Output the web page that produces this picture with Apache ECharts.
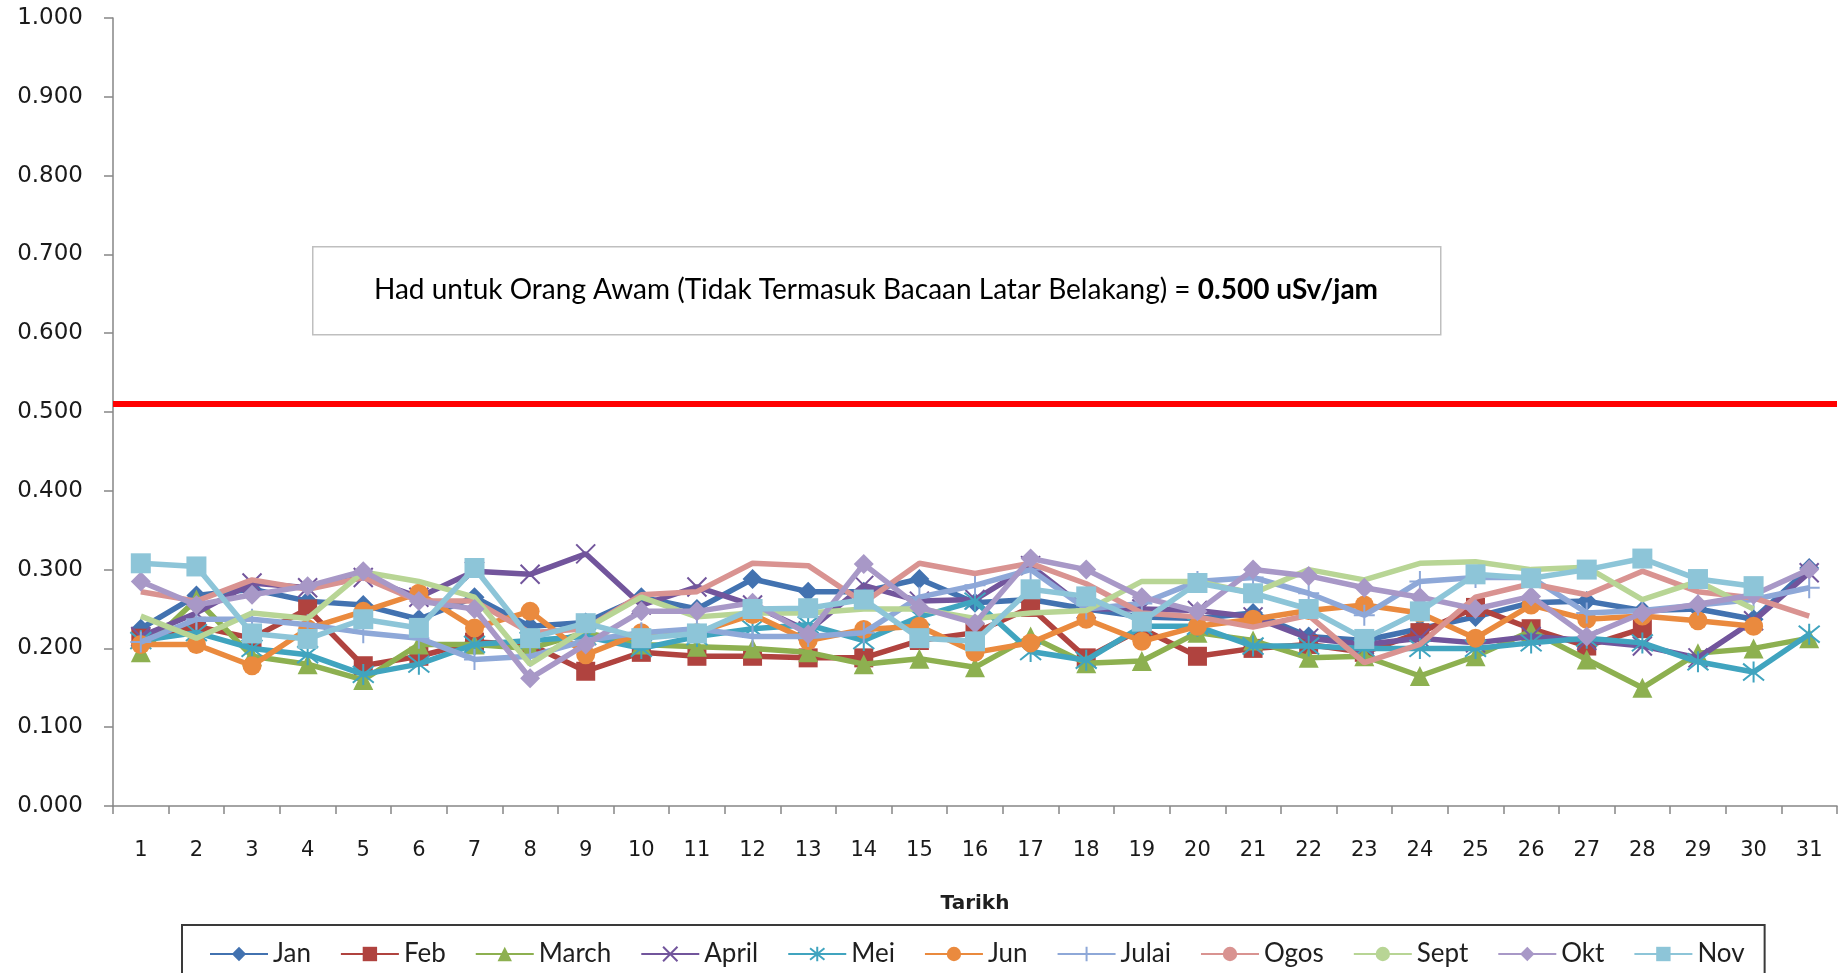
<!DOCTYPE html>
<html>
<head>
<meta charset="utf-8">
<script src="https://cdn.jsdelivr.net/npm/echarts@6/dist/echarts.min.js"></script>
<style>
html,body{margin:0;padding:0;background:#fff;}
#chart{width:1839px;height:973px;}
</style>
</head>
<body>
<div id="chart"></div>
<script>
const days = ['1','2','3','4','5','6','7','8','9','10','11','12','13','14','15','16','17','18','19','20','21','22','23','24','25','26','27','28','29','30','31'];
const yTicks = [0, 0.1, 0.2, 0.3, 0.4, 0.5, 0.6, 0.7, 0.8, 0.9, 1.0];
const limitLine = 0.505;
const xTitle = 'Tarikh';
const noteText = 'Had untuk Orang Awam (Tidak Termasuk Bacaan Latar Belakang) = ';
const noteBold = '0.500 uSv/jam';

const seriesNames = ['Jan','Feb','March','April','Mei','Jun','Julai','Ogos','Sept','Okt','Nov'];

const jan   = [0.225,0.267,0.275,0.260,0.255,0.237,0.265,0.228,0.233,0.265,0.250,0.288,0.272,0.272,0.288,0.258,0.262,0.250,0.240,0.238,0.245,0.215,0.210,0.225,0.240,0.258,0.260,0.248,0.250,0.237,0.302];
const feb   = [0.213,0.228,0.213,0.250,0.178,0.190,0.208,0.205,0.171,0.195,0.190,0.190,0.188,0.188,0.210,0.220,0.252,0.188,0.225,0.190,0.200,0.205,0.195,0.220,0.252,0.225,0.203,0.225,null,null,null];
const march = [0.195,0.262,0.190,0.180,0.160,0.205,0.205,0.200,0.220,0.205,0.202,0.200,0.195,0.180,0.187,0.176,0.215,0.181,0.184,0.220,0.210,0.188,0.190,0.165,0.190,0.222,0.186,0.150,0.194,0.200,0.213];
const april = [0.215,0.245,0.283,0.277,0.290,0.265,0.298,0.294,0.320,0.255,0.278,0.255,0.222,0.280,0.260,0.262,0.305,0.250,0.250,0.248,0.240,0.213,0.205,0.213,0.207,0.215,0.210,0.203,0.188,0.235,0.296];
const mei   = [0.210,0.220,0.200,0.192,0.167,0.180,0.205,0.210,0.215,0.200,0.215,0.225,0.230,0.210,0.240,0.260,0.196,0.185,0.228,0.228,0.203,0.203,0.200,0.200,0.200,0.207,0.213,0.207,0.183,0.170,0.218];
const jun   = [0.205,0.205,0.178,0.225,0.247,0.270,0.226,0.247,0.192,0.220,0.220,0.243,0.210,0.224,0.228,0.195,0.207,0.237,0.209,0.228,0.237,0.248,0.255,0.245,0.213,0.255,0.237,0.241,0.235,0.228,null];
const julai = [0.208,0.237,0.237,0.230,0.220,0.213,0.186,0.190,0.210,0.220,0.225,0.215,0.215,0.220,0.265,0.280,0.300,0.250,0.257,0.285,0.290,0.270,0.242,0.285,0.290,0.290,0.245,0.248,0.255,0.262,0.277];
const ogos  = [0.272,0.260,0.287,0.275,0.290,0.260,0.260,0.220,0.225,0.268,0.272,0.308,0.305,0.258,0.308,0.295,0.308,0.282,0.245,0.240,0.227,0.242,0.182,0.205,0.265,0.282,0.268,0.298,0.272,0.264,0.241];
const sept  = [0.241,0.213,0.245,0.238,0.297,0.285,0.265,0.180,0.225,0.265,0.240,0.245,0.245,0.250,0.250,0.238,0.245,0.248,0.285,0.285,0.270,0.300,0.287,0.308,0.310,0.300,0.303,0.262,0.285,0.250,null];
const okt   = [0.285,0.255,0.268,0.279,0.298,0.260,0.250,0.162,0.205,0.247,0.247,0.258,0.218,0.307,0.252,0.232,0.314,0.300,0.265,0.247,0.300,0.292,0.277,0.265,0.250,0.266,0.215,0.245,0.256,0.268,0.300];
const nov   = [0.308,0.304,0.219,0.212,0.237,0.226,0.302,0.213,0.232,0.213,0.219,0.250,0.251,0.262,0.213,0.209,0.275,0.266,0.234,0.283,0.270,0.250,0.212,0.247,0.294,0.289,0.300,0.314,0.288,0.279,null];

const seriesData = [jan, feb, march, april, mei, jun, julai, ogos, sept, okt, nov];
const colors = ['#4272B0','#B0433F','#8DB050','#72559C','#40A4BF','#EA8A3E','#8EA8D8','#D99391','#B8D595','#A898C7','#8DC5D8'];

const SYM_X = 'path://M0,0L20,20M20,0L0,20';
const SYM_STAR = 'path://M10,0L10,20M2,2L18,18M18,2L2,18';
const SYM_PLUS = 'path://M10,0L10,20M0,10L20,10';
const symbols = ['diamond','rect','triangle',SYM_X,SYM_STAR,'circle',SYM_PLUS,'none','none','diamond','rect'];
const sizes = [20,19,20,19,21,19,21,0,0,20,20];
const stroked = [false,false,false,true,true,false,true,false,false,false,false];

const chart = echarts.init(document.getElementById('chart'), null, {renderer:'canvas'});

const series = seriesNames.map((name, i) => ({
  name: name,
  type: 'line',
  data: seriesData[i],
  symbol: symbols[i],
  symbolSize: sizes[i],
  showSymbol: symbols[i] !== 'none',
  connectNulls: false,
  lineStyle: {color: colors[i], width: 5.5},
  itemStyle: stroked[i]
    ? {color: colors[i], borderColor: colors[i], borderWidth: 2}
    : {color: colors[i], borderWidth: 0},
  emphasis: {disabled: true},
  animation: false,
  z: 2 + i
}));

series[0].markLine = {
  silent: true,
  symbol: ['none','none'],
  label: {show: false},
  lineStyle: {color: '#FF0000', width: 6, type: 'solid'},
  data: [{yAxis: limitLine}],
  animation: false
};

const axisFont = 'DejaVu Sans';

chart.setOption({
  backgroundColor: '#ffffff',
  animation: false,
  color: colors,
  grid: {left: 113, right: 2, top: 18, bottom: 167, containLabel: false},
  xAxis: {
    type: 'category',
    data: days,
    boundaryGap: true,
    name: xTitle,
    nameLocation: 'middle',
    nameGap: 88,
    nameTextStyle: {fontFamily: axisFont, fontWeight: 'bold', fontSize: 20, color: '#1F1F1F'},
    axisLine: {lineStyle: {color: '#868686', width: 1.5}},
    axisTick: {show: true, length: 8, inside: false, lineStyle: {color: '#868686', width: 1.5}},
    axisLabel: {interval: 0, margin: 34, fontFamily: axisFont, fontSize: 21, color: '#1A1A1A'},
    splitLine: {show: false}
  },
  yAxis: {
    type: 'value',
    min: yTicks[0],
    max: yTicks[yTicks.length - 1],
    interval: 0.1,
    axisLine: {show: true, lineStyle: {color: '#868686', width: 1.5}},
    axisTick: {show: true, length: 9, inside: false, lineStyle: {color: '#868686', width: 1.5}},
    axisLabel: {margin: 30, fontFamily: axisFont, fontSize: 23, color: '#1A1A1A', formatter: v => v.toFixed(3)},
    splitLine: {show: false}
  },
  legend: {
    left: 182,
    top: 925,
    orient: 'horizontal',
    itemWidth: 58,
    itemHeight: 18,
    itemGap: 29,
    padding: [16, 20, 40, 27],
    borderColor: '#3A3A3A',
    borderWidth: 2,
    backgroundColor: '#ffffff',
    textStyle: {fontFamily: 'Lato', fontSize: 26, color: '#1F1F1F'},
    data: seriesNames
  },
  graphic: [
    {
      type: 'rect',
      left: 312, top: 246,
      shape: {width: 1128, height: 88},
      style: {fill: '#ffffff', stroke: '#BFBFBF', lineWidth: 1.5},
      z: 10
    },
    {
      type: 'text',
      x: 876, y: 290,
      style: {
        text: '{n|' + noteText + '}{b|' + noteBold + '}',
        align: 'center',
        verticalAlign: 'middle',
        rich: {
          n: {fontFamily: 'Lato', fontSize: 28, color: '#1A1A1A'},
          b: {fontFamily: 'Lato', fontSize: 28, fontWeight: 'bold', color: '#1A1A1A'}
        }
      },
      z: 11
    }
  ],
  series: series
});
</script>
</body>
</html>
